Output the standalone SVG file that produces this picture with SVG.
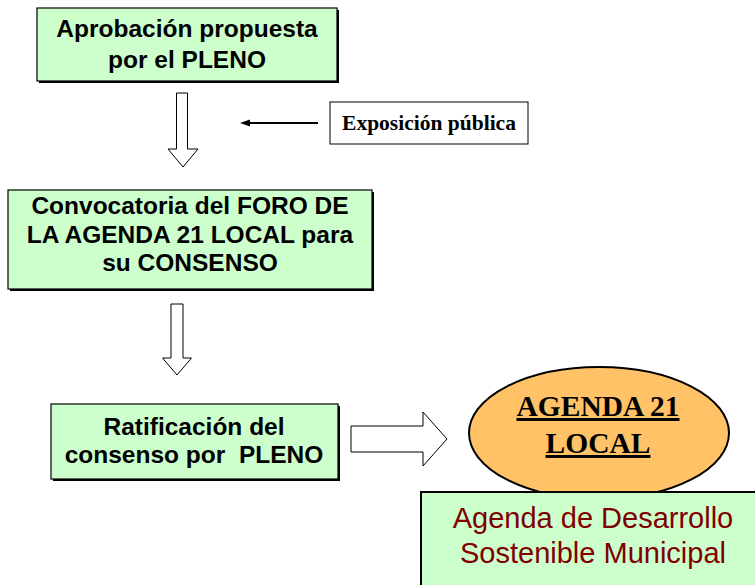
<svg xmlns="http://www.w3.org/2000/svg" width="755" height="585" viewBox="0 0 755 585">
<style>
.box{fill:#CCFFCC;stroke:#000;stroke-width:1.2}
.shadow{fill:#000}
.t{font-family:"Liberation Sans",Arial,sans-serif;font-weight:bold;font-size:24.5px;fill:#000;text-anchor:middle}
.blk{fill:#fff;stroke:#000;stroke-width:1}
.serif{font-family:"Liberation Serif","Times New Roman",serif;font-weight:bold;fill:#000;text-anchor:middle}
.red{font-family:"Liberation Sans",Arial,sans-serif;font-size:29px;fill:#800000;text-anchor:middle}
</style>
<rect width="755" height="585" fill="#fff"/>
<g id="connectors">
<path class="blk" d="M176.5,93 H187.5 V149 H198 L183,167 L168,149 H176.5 Z"/>
<path class="blk" d="M171,304 H183 V358 H191.5 L177,375 L162.5,358 H171 Z"/>
<path class="blk" d="M351,426 H423 V412 L447,439 L423,466 V452 H351 Z"/>
<line x1="318" y1="123" x2="248" y2="123" stroke="#000" stroke-width="2"/>
<path d="M240,123 L250,119.5 L250,126.5 Z" fill="#000"/>
</g>
<g id="n1">
<rect class="shadow" x="39" y="10" width="300" height="73"/>
<rect class="box" x="37" y="8" width="300" height="73"/>
<text class="t" x="187" y="37">Aprobación propuesta</text>
<text class="t" x="187" y="68">por el PLENO</text>
</g>
<g id="n_expo">
<rect class="blk" x="330" y="102" width="198" height="42"/>
<text class="serif" x="429" y="130" font-size="21.5">Exposición pública</text>
</g>
<g id="n2">
<rect class="shadow" x="10" y="192" width="364" height="99"/>
<rect class="box" x="8" y="190" width="364" height="99"/>
<text class="t" x="190" y="214">Convocatoria del FORO DE</text>
<text class="t" x="190" y="243">LA AGENDA 21 LOCAL para</text>
<text class="t" x="190" y="271">su CONSENSO</text>
</g>
<g id="n3">
<rect class="shadow" x="53" y="406" width="287" height="75"/>
<rect class="box" x="51" y="404" width="287" height="75"/>
<text class="t" x="194" y="435">Ratificación del</text>
<text class="t" x="194" y="463" xml:space="preserve">consenso por  PLENO</text>
</g>
<g id="n4">
<ellipse cx="599" cy="433" rx="130" ry="66" fill="#FFC266" stroke="#000" stroke-width="2"/>
<text class="serif" x="598" y="416" font-size="29.5" text-decoration="underline">AGENDA 21</text>
<text class="serif" x="598" y="453" font-size="29.5" text-decoration="underline">LOCAL</text>
</g>
<g id="n5">
<rect x="421" y="492" width="340" height="100" fill="#CCFFCC" stroke="#000" stroke-width="2"/>
<text class="red" x="593" y="528">Agenda de Desarrollo</text>
<text class="red" x="593" y="563">Sostenible Municipal</text>
</g>
</svg>
